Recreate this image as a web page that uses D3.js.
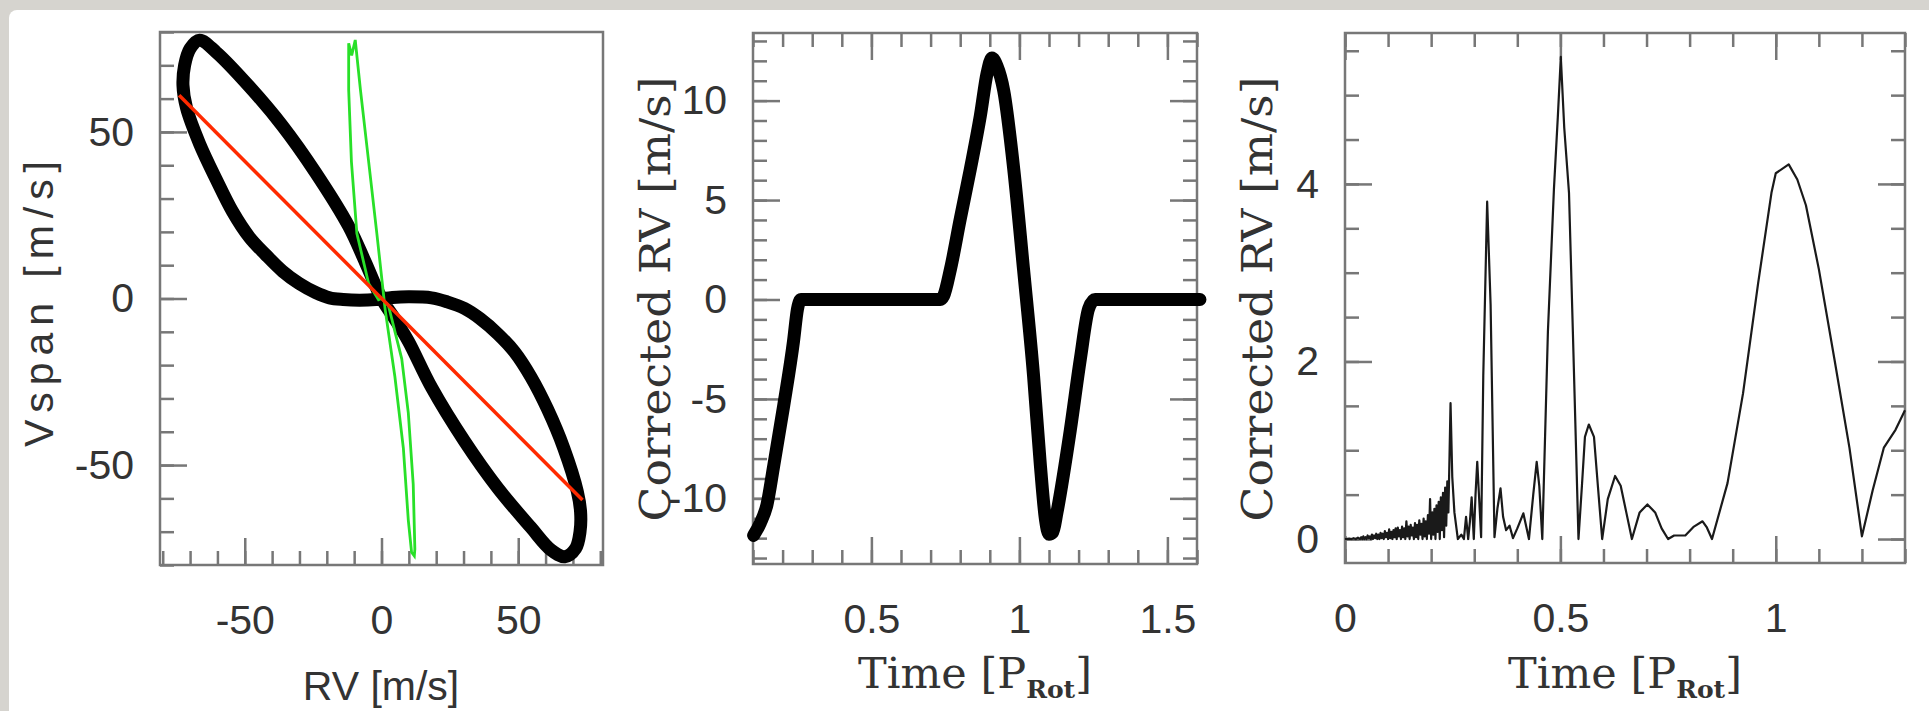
<!DOCTYPE html>
<html>
<head>
<meta charset="utf-8">
<script src="https://cdn.jsdelivr.net/npm/d3@7"></script>
<style>
  body { margin: 0; background: #d6d4cf; }
  svg { display: block; }
</style>
</head>
<body>
<div id="chart"></div>
<script>
// ---- panel 1: Vspan vs RV ----
const loopRV = [-66.5, -60.4, -48.3, -36.2, -24.1, -12.0, -5.9, 0, 5.0, 9.8, 18.3, 30.4, 42.5, 54.6, 62, 67,
  71, 72.6, 72.8, 71.6, 66.7, 60.7, 54.6, 48.6, 42.5, 36, 30.4, 24, 18.3, 10, 4, -2, -8, -14, -19,
  -24.1, -30.1, -36.2, -42.3, -48.3, -54.4, -60.4, -66.5, -71.3, -72.6, -72, -70];
const loopVspan = [77.5, 73.9, 63.6, 51.8, 37.8, 21.7, 10.9, 0, -6.3, -12.8, -26.7, -42.9, -56.9, -68.7, -75.5, -77.5,
  -75, -70, -64, -57.9, -45.0, -33.2, -23.5, -16, -10.6, -6, -3.0, -1, 0.2, 0.5, 0.3, -0.3, -0.5, -0.3, 0.2,
  1.8, 4.5, 8.2, 13.1, 18.4, 26.0, 35.7, 46.4, 57.2, 64, 70, 75];
const greenRV = [-12.0, -10.9, -9.6, -7.7, -4.7, -1.7, 0.5, 1.3, 4.9, 8.0, 9.8, 11.0, 12.0, 12.2, 11.6, 9.8,
  7.4, 2.5, 0, -1.1, -4.7, -9.0, -11.0, -12.0];
const greenVspan = [76.6, 73.0, 77.6, 62.6, 41.1, 19.5, 3.0, -3.1, -23.5, -45.0, -66.5, -76.2, -77.3, -75.2, -55.8, -34.3,
  -18.1, -2.0, 0, -0.4, 4.5, 19.5, 41.1, 62.6];
const fitRV = [-74, 73.5];
const fitVspan = [61, -60.5];

// ---- panel 2: corrected RV vs time ----
const p2Time = [0.102, 0.125, 0.147, 0.170, 0.204, 0.237, 0.25, 0.262, 0.4, 0.55, 0.733, 0.744, 0.767, 0.8, 0.834,
  0.868, 0.891, 0.907, 0.924, 0.947, 0.981, 1.014, 1.048, 1.071, 1.088, 1.1, 1.113, 1.127, 1.172, 1.206, 1.234,
  1.256, 1.4, 1.61];
const p2RV = [-11.86, -11.23, -10.33, -8.36, -5.31, -2.08, -0.5, 0, 0, 0, 0, 0.18, 1.52, 4.03, 6.54,
  9.23, 11.39, 12.14, 11.75, 10.5, 6.54, 1.51, -3.87, -8.36, -11.05, -11.8, -11.7, -10.7, -6.57, -2.98, -0.46,
  0, 0, 0];

// ---- panel 3: corrected RV vs time (spiky) ----
const p3Time = [0, 0.01, 0.015, 0.02, 0.025, 0.03, 0.035, 0.0375,
  0.04, 0.0425, 0.045, 0.0475, 0.05, 0.0525, 0.055, 0.0575,
  0.06, 0.0625, 0.065, 0.0675, 0.07, 0.0725, 0.075, 0.0775,
  0.08, 0.0825, 0.085, 0.0875, 0.09, 0.0925, 0.095, 0.0975,
  0.1, 0.1025, 0.105, 0.1075, 0.11, 0.1125, 0.115, 0.1175,
  0.12, 0.1225, 0.125, 0.1275, 0.13, 0.1325, 0.135, 0.1375,
  0.14, 0.1425, 0.145, 0.1475, 0.15, 0.1525, 0.155, 0.1575,
  0.16, 0.1625, 0.165, 0.1675, 0.17, 0.1725, 0.175, 0.1775,
  0.18, 0.1825, 0.185, 0.1875, 0.19, 0.1925, 0.195, 0.1975,
  0.2, 0.2025, 0.205, 0.2075, 0.21, 0.2125, 0.215, 0.2175,
  0.22, 0.2225, 0.225, 0.2275, 0.23, 0.2325, 0.235, 0.2375,
  0.24, 0.2425, 0.245, 0.249, 0.254, 0.262, 0.27, 0.276, 0.281, 0.286, 0.29, 0.294, 0.299, 0.303, 0.307,
  0.312, 0.316, 0.321, 0.330, 0.338, 0.347, 0.354, 0.361, 0.367, 0.374, 0.382, 0.39, 0.4, 0.414, 0.427,
  0.437, 0.445, 0.451, 0.458, 0.471, 0.485, 0.494, 0.501, 0.509, 0.52, 0.529, 0.538, 0.542, 0.55, 0.557,
  0.566, 0.578, 0.587, 0.597, 0.61, 0.627, 0.64, 0.653, 0.666, 0.684, 0.702, 0.72, 0.735, 0.75, 0.764,
  0.79, 0.81, 0.83, 0.84, 0.852, 0.888, 0.924, 0.959, 0.99, 1.0, 1.03, 1.05, 1.07, 1.1, 1.136, 1.171,
  1.2, 1.225, 1.251, 1.278, 1.3];
const p3RV = [0, 0.005, 0, 0.01, 0, 0.015, 0, 0.02,
  0.00, 0.03, 0.00, 0.02, 0.00, 0.04, 0.01, 0.03,
  0.00, 0.05, 0.00, 0.04, 0.01, 0.06, 0.00, 0.05,
  0.00, 0.07, 0.01, 0.06, 0.00, 0.09, 0.02, 0.07,
  0.00, 0.11, 0.01, 0.08, 0.00, 0.10, 0.02, 0.12,
  0.00, 0.13, 0.03, 0.10, 0.00, 0.14, 0.02, 0.12,
  0.00, 0.20, 0.03, 0.14, 0.00, 0.16, 0.04, 0.13,
  0.00, 0.18, 0.02, 0.16, 0.00, 0.21, 0.05, 0.17,
  0.00, 0.23, 0.03, 0.20, 0.00, 0.27, 0.06, 0.45,
  0.00, 0.30, 0.05, 0.34, 0.00, 0.38, 0.08, 0.42,
  0.00, 0.47, 0.10, 0.52, 0.02, 0.58, 0.15, 0.65,
  0.30, 0.90, 1.53, 0.7, 0.3, 0, 0.05, 0, 0.25, 0, 0.2, 0.47, 0, 0.5, 0.87,
  0.4, 0.02, 1.84, 3.8, 2.64, 0.02, 0.35, 0.57, 0.25, 0.1, 0.15, 0.01, 0.12, 0.29, 0,
  0.5, 0.87, 0.6, 0, 2.33, 3.94, 4.75, 5.43, 4.63, 3.9, 2.33, 0.72, 0, 0.6, 1.15,
  1.29, 1.15, 0.6, 0, 0.45, 0.71, 0.6, 0.3, 0, 0.3, 0.39, 0.3, 0.12, 0, 0.04,
  0.04, 0.14, 0.2, 0.13, 0, 0.63, 1.64, 2.88, 3.9, 4.12, 4.22, 4.05, 3.76, 3.04, 2.03, 1.03,
  0.03, 0.55, 1.03, 1.23, 1.45];

// tick labels
const p1Ticks = [-50, 0, 50];
const p2xTicks = [0.5, 1, 1.5];
const p2yTicks = [-10, -5, 0, 5, 10];
const p3xTicks = [0, 0.5, 1];
const p3yTicks = [0, 2, 4];

const W = 1929, H = 711;
const frameColor = "#777";
const sans = "'Liberation Sans', Arial, sans-serif";
const serif = "'DejaVu Serif', serif";

const svg = d3.select("#chart").append("svg").attr("width", W).attr("height", H);

// white card on the grey page
svg.append("rect").attr("x", 9).attr("y", 10).attr("width", W).attr("height", H)
  .attr("rx", 8).attr("fill", "#fff");

function panel(left, top, w, h, xDomain, yDomain) {
  const g = svg.append("g").attr("transform", `translate(${left},${top})`);
  const x = d3.scaleLinear().domain(xDomain).range([0, w]);
  const y = d3.scaleLinear().domain(yDomain).range([h, 0]);
  return { g, x, y, w, h };
}

function styleAxis(sel) {
  sel.select(".domain").remove();
  sel.selectAll(".tick line").attr("stroke", frameColor).attr("stroke-width", 2.5);
  sel.selectAll(".tick text").attr("fill", "#333").style("font-family", sans)
    .style("font-size", "41px");
}

// ticks pointing inward; labels only on bottom/left
function axes(p, o) {
  const { g, x, y, w, h } = p;
  const fmt = d => String(d);
  const specs = [
    [d3.axisBottom, x, o.xMinor, 14, `translate(0,${h})`, false],
    [d3.axisBottom, x, o.xMajor, 27, `translate(0,${h})`, true],
    [d3.axisLeft, y, o.yMinor, 14, null, false],
    [d3.axisLeft, y, o.yMajor, 27, null, true]
  ];
  if (o.mirror) {
    specs.push([d3.axisTop, x, o.xMinor, 14, null, false]);
    specs.push([d3.axisTop, x, o.xMajor, 27, null, false]);
    specs.push([d3.axisRight, y, o.yMinor, 14, `translate(${w},0)`, false]);
    specs.push([d3.axisRight, y, o.yMajor, 27, `translate(${w},0)`, false]);
  }
  specs.forEach(([fn, sc, vals, size, tr, lab]) => {
    const ax = fn(sc).tickValues(vals).tickSize(-size)
      .tickPadding(fn === d3.axisBottom ? 40 : 26)
      .tickFormat(lab ? fmt : "");
    const a = g.append("g").call(ax);
    if (tr) a.attr("transform", tr);
    styleAxis(a);
  });
  g.append("rect").attr("width", w).attr("height", h)
    .attr("fill", "none").attr("stroke", frameColor).attr("stroke-width", 2.5);
}

function minor(lo, hi, step) {
  return d3.range(Math.ceil(lo / step), Math.floor(hi / step) + 1).map(i => +(i * step).toFixed(6));
}

// ---------- panel 1 ----------
const p1 = panel(160, 32, 443, 533, [-81, 81], [-80, 80]);
axes(p1, {
  xMinor: minor(-81, 81, 10), xMajor: p1Ticks,
  yMinor: minor(-80, 80, 10), yMajor: p1Ticks, mirror: false
});
p1.g.append("path")
  .attr("d", d3.line().x(i => p1.x(loopRV[i])).y(i => p1.y(loopVspan[i]))
    .curve(d3.curveCatmullRomClosed)(d3.range(loopRV.length)))
  .attr("fill", "none").attr("stroke", "#000").attr("stroke-width", 13).attr("stroke-linejoin", "round");
p1.g.append("path")
  .attr("d", d3.line().x(i => p1.x(greenRV[i])).y(i => p1.y(greenVspan[i]))
    .curve(d3.curveLinearClosed)(d3.range(greenRV.length)))
  .attr("fill", "none").attr("stroke", "#28e028").attr("stroke-width", 2.8);
p1.g.append("path")
  .attr("d", d3.line().x(i => p1.x(fitRV[i])).y(i => p1.y(fitVspan[i]))(d3.range(fitRV.length)))
  .attr("fill", "none").attr("stroke", "#ff2a00").attr("stroke-width", 3.5);

svg.append("text").attr("x", 381).attr("y", 700).attr("text-anchor", "middle")
  .style("font-family", sans).style("font-size", "41px").attr("fill", "#333").text("RV [m/s]");
svg.append("text").attr("transform", "translate(53,304) rotate(-90)").attr("text-anchor", "middle")
  .attr("textLength", 286).attr("lengthAdjust", "spacing")
  .style("font-family", sans).style("font-size", "41px").attr("fill", "#333").text("Vspan [m/s]");

// ---------- panel 2 ----------
const p2 = panel(753, 33, 444, 531, [0.1, 1.6], [-13.3, 13.4]);
axes(p2, {
  xMinor: minor(0.1, 1.6, 0.1), xMajor: p2xTicks,
  yMinor: minor(-13.3, 13.4, 1), yMajor: p2yTicks, mirror: true
});
p2.g.append("path")
  .attr("d", d3.line().x(i => p2.x(p2Time[i])).y(i => p2.y(p2RV[i]))
    .curve(d3.curveMonotoneX)(d3.range(p2Time.length)))
  .attr("fill", "none").attr("stroke", "#000").attr("stroke-width", 13)
  .attr("stroke-linejoin", "round").attr("stroke-linecap", "round");

// ---------- panel 3 ----------
const p3 = panel(1345, 33, 560, 530, [0, 1.3], [-0.27, 5.7]);
axes(p3, {
  xMinor: minor(0, 1.3, 0.1), xMajor: p3xTicks,
  yMinor: minor(-0.27, 5.7, 0.5), yMajor: p3yTicks, mirror: true
});
p3.g.append("path")
  .attr("d", d3.line().x(i => p3.x(p3Time[i])).y(i => p3.y(p3RV[i]))(d3.range(p3Time.length)))
  .attr("fill", "none").attr("stroke", "#1a1a1a").attr("stroke-width", 2.2).attr("stroke-linejoin", "round");

// serif titles for panels 2 and 3
function timeLabel(cx) {
  const t = svg.append("text").attr("x", cx).attr("y", 688).attr("text-anchor", "middle")
    .style("font-family", serif).style("font-size", "43px").attr("fill", "#333");
  t.append("tspan").text("Time [P");
  t.append("tspan").attr("dy", 10).style("font-size", "25px").style("font-weight", "bold").text("Rot");
  t.append("tspan").attr("dy", -10).text("]");
}
function rvLabel(bx) {
  svg.append("text").attr("transform", `translate(${bx},299) rotate(-90)`).attr("text-anchor", "middle")
    .attr("textLength", 445).attr("lengthAdjust", "spacingAndGlyphs")
    .style("font-family", serif).style("font-size", "43px").attr("fill", "#333")
    .text("Corrected RV [m/s]");
}
timeLabel(975);
rvLabel(670);
timeLabel(1625);
rvLabel(1272);
</script>
</body>
</html>
